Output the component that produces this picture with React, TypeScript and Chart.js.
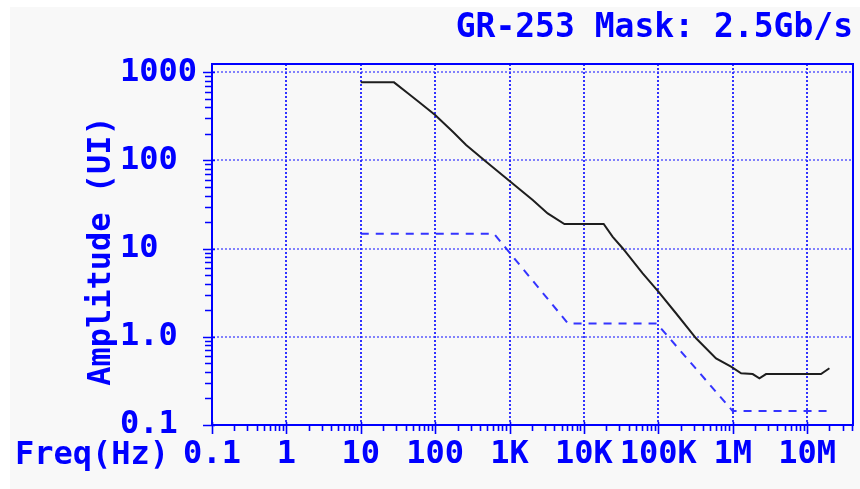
import { useEffect, useRef } from "react";
import { Chart, registerables } from "chart.js";

Chart.register(...registerables);

// ---------- data ----------
const TITLE = "GR-253 Mask: 2.5Gb/s";
const X_TITLE = "Freq(Hz)";
const Y_TITLE = "Amplitude (UI)";

const xTickValues = [0.1, 1, 10, 100, 1e3, 1e4, 1e5, 1e6, 1e7];
const xTickLabels = ["0.1", "1", "10", "100", "1K", "10K", "100K", "1M", "10M"];
const yTickValues = [0.1, 1, 10, 100, 1000];
const yTickLabels = ["0.1", "1.0", "10", "100", "1000"];

// measured jitter tolerance (black trace)
const measuredFreq = [
  10, 28, 43, 60, 100, 173, 261, 485, 1030, 2050, 3260, 5470, 18450, 24400,
  33200, 61700, 101000, 173000, 322000, 598000, 951000, 1.3e6, 1.86e6, 2.29e6,
  2.81e6, 1.54e7, 2.0e7,
];
const measuredAmp = [
  768, 768, 577, 463, 327, 211, 150, 96.6, 57.3, 35.6, 25.1, 19.0, 19.0, 13.6,
  10.1, 5.25, 3.24, 1.85, 0.962, 0.57, 0.458, 0.385, 0.378, 0.339, 0.378, 0.378,
  0.44,
];

// GR-253 mask (blue dashed trace)
const maskFreq = [10, 620, 6100, 95000, 1.0e6, 1.9e7];
const maskAmp = [14.7, 14.7, 1.42, 1.42, 0.144, 0.144];

// ---------- styling ----------
const BLUE = "#0000ff";
const FONT_FAMILY = "'DejaVu Sans Mono', 'Liberation Mono', monospace";

function labelFor(values: number[], labels: string[], v: number) {
  let best = 0;
  let bestD = Infinity;
  values.forEach((tv, i) => {
    const d = Math.abs(Math.log10(tv) - Math.log10(v));
    if (d < bestD) {
      bestD = d;
      best = i;
    }
  });
  return labels[best];
}

const decorPlugin = {
  id: "decor",
  beforeDraw(chart: any) {
    const { ctx, width, height } = chart;
    ctx.save();
    ctx.fillStyle = "#ffffff";
    ctx.fillRect(0, 0, width, height);
    ctx.fillStyle = "#f8f8f8";
    ctx.fillRect(10, 7, width - 10, height - 7);
    ctx.restore();
  },
  afterDraw(chart: any) {
    const { ctx, chartArea: a, scales } = chart;
    const xs = scales.x;
    const ys = scales.y;
    ctx.save();
    // top & right frame
    ctx.strokeStyle = BLUE;
    ctx.lineWidth = 2;
    ctx.beginPath();
    ctx.moveTo(a.left, a.top);
    ctx.lineTo(a.right, a.top);
    ctx.lineTo(a.right, a.bottom);
    ctx.stroke();

    // axis tick marks (major + minor)
    ctx.lineWidth = 1.6;
    ctx.beginPath();
    for (let e = -1; e <= 7; e++) {
      for (let m = 1; m <= 9; m++) {
        const v = m * Math.pow(10, e);
        if (v < xs.min * 0.999 || v > xs.max) continue;
        const px = Math.round(xs.getPixelForValue(v)) + 0.5;
        const major = m === 1;
        ctx.moveTo(px, a.bottom - (major ? 3 : 0));
        ctx.lineTo(px, a.bottom + (major ? 9 : 6));
      }
    }
    for (let e = -1; e <= 3; e++) {
      for (let m = 1; m <= 9; m++) {
        const v = m * Math.pow(10, e);
        if (v < ys.min * 0.999 || v > ys.max) continue;
        const py = Math.round(ys.getPixelForValue(v)) + 0.5;
        const major = m === 1;
        ctx.moveTo(a.left - (major ? 9 : 7), py);
        ctx.lineTo(a.left + (major ? 3 : 0), py);
      }
    }
    ctx.stroke();

    // texts
    ctx.fillStyle = BLUE;
    ctx.font = `bold 33px ${FONT_FAMILY}`;
    ctx.textAlign = "right";
    ctx.textBaseline = "alphabetic";
    ctx.fillText(TITLE, 853, 37);

    ctx.font = `bold 32px ${FONT_FAMILY}`;
    ctx.textAlign = "left";
    ctx.textBaseline = "middle";
    ctx.fillText(X_TITLE, 15, 456);

    ctx.save();
    ctx.translate(102, 251);
    ctx.rotate(-Math.PI / 2);
    ctx.textAlign = "center";
    ctx.textBaseline = "middle";
    ctx.fillText(Y_TITLE, 0, 0);
    ctx.restore();

    ctx.restore();
  },
};

export default function App() {
  const canvasRef = useRef<HTMLCanvasElement | null>(null);

  useEffect(() => {
    const canvas = canvasRef.current;
    if (!canvas) return;
    const tickFont = { family: FONT_FAMILY, weight: "bold" as const, size: 32, lineHeight: 1 };

    const chart = new Chart(canvas, {
      type: "line",
      data: {
        datasets: [
          {
            label: "Mask",
            data: maskFreq.map((f, i) => ({ x: f, y: maskAmp[i] })),
            borderColor: "rgba(30,30,255,0.9)",
            borderWidth: 2,
            borderDash: [8, 7],
            pointRadius: 0,
            tension: 0,
            fill: false,
          },
          {
            label: "Measured",
            data: measuredFreq.map((f, i) => ({ x: f, y: measuredAmp[i] })),
            borderColor: "#1e1e1e",
            borderWidth: 2,
            pointRadius: 0,
            tension: 0,
            fill: false,
          },
        ],
      },
      options: {
        responsive: false,
        devicePixelRatio: 1,
        animation: false,
        layout: { padding: { left: 120, right: 7, top: 64, bottom: 0 } },
        plugins: {
          legend: { display: false },
          tooltip: { enabled: false },
          title: { display: false },
        },
        scales: {
          x: {
            type: "logarithmic",
            min: 0.1,
            max: 4.15e7,
            afterBuildTicks: (s: any) => {
              s.ticks = xTickValues.map((v) => ({ value: v }));
            },
            afterFit: (s: any) => {
              s.height = 64;
              s.paddingLeft = 0;
              s.paddingRight = 0;
            },
            grid: {
              color: "rgba(0,0,255,0.8)",
              lineWidth: 2,
              drawTicks: false,
            },
            border: { display: true, color: BLUE, width: 2, dash: [2, 2] },
            ticks: {
              autoSkip: false,
              maxRotation: 0,
              minRotation: 0,
              padding: 14,
              color: BLUE,
              font: tickFont,
              callback: (v: any) => labelFor(xTickValues, xTickLabels, Number(v)),
            },
          },
          y: {
            type: "logarithmic",
            min: 0.1,
            max: 1240,
            afterBuildTicks: (s: any) => {
              s.ticks = yTickValues.map((v) => ({ value: v }));
            },
            afterFit: (s: any) => {
              s.width = 92;
              s.paddingTop = 0;
              s.paddingBottom = 0;
            },
            grid: {
              color: "rgba(50,50,255,0.6)",
              lineWidth: 2,
              drawTicks: false,
            },
            border: { display: true, color: BLUE, width: 2, dash: [2, 2] },
            ticks: {
              autoSkip: false,
              crossAlign: "far",
              padding: 0,
              color: BLUE,
              font: tickFont,
              callback: (v: any) => labelFor(yTickValues, yTickLabels, Number(v)),
            },
          },
        },
      },
      plugins: [decorPlugin],
    });

    return () => chart.destroy();
  }, []);

  return (
    <div style={{ position: "fixed", left: 0, top: 0, width: 860, height: 489 }}>
      <canvas ref={canvasRef} width={860} height={489} style={{ display: "block" }} />
    </div>
  );
}
